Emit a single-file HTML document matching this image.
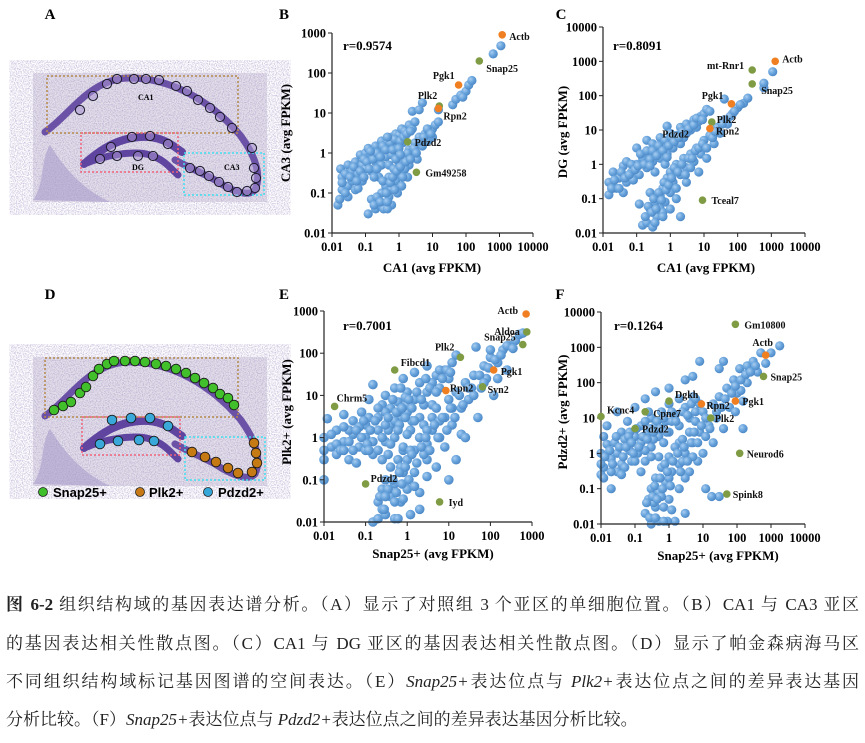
<!DOCTYPE html>
<html><head><meta charset="utf-8"><style>
html,body{margin:0;padding:0;background:#fff;}
#root{position:relative;width:865px;height:743px;overflow:hidden;background:#fff;}
svg text{font-family:"Liberation Serif","Noto Serif CJK SC",serif;}
svg text.sans{font-family:"Liberation Sans",sans-serif;}
.cap{position:absolute;left:6px;width:853px;font-family:"Liberation Serif","Noto Serif CJK SC",serif;font-size:17px;color:#222;text-align:justify;text-align-last:justify;white-space:nowrap;line-height:20px;}
.cap.last{text-align-last:left;}
</style></head><body>
<div id="root">
<svg id="fig" width="865" height="575" viewBox="0 0 865 575" xmlns="http://www.w3.org/2000/svg">
<defs>
<radialGradient id="gb" cx="0.35" cy="0.35" r="0.7"><stop offset="0" stop-color="#a9cdf0"/><stop offset="0.5" stop-color="#6aa5dd"/><stop offset="1" stop-color="#4a86c4"/></radialGradient>
<filter id="tex"><feTurbulence type="fractalNoise" baseFrequency="0.85" numOctaves="2" seed="3"/><feColorMatrix values="0 0 0 0 0.42  0 0 0 0 0.35  0 0 0 0 0.6  0 0 0 -2.2 1.35"/></filter>
<g id="tissue">
<rect x="33" y="73" width="234" height="129" fill="#e4e0ea"/>
<rect x="33" y="73" width="234" height="129" filter="url(#tex)" opacity="0.8"/>
<path d="M33,200 C45,185 40,160 50,145 C60,160 75,185 110,202 Z" fill="#a497c8" opacity="0.55"/>
<path d="M45,132 C70,115 90,78 130,78 C170,78 210,100 240,135 C255,155 262,175 255,190 C248,198 230,190 215,180 C200,172 190,168 175,160" fill="none" stroke="#5f44a0" stroke-width="7" stroke-linecap="round" opacity="0.9"/>
<path d="M84,164 C100,150 120,135 150,137 C165,139 172,145 182,152" fill="none" stroke="#5f44a0" stroke-width="8" stroke-linecap="round"/>
<path d="M84,164 C105,155 135,150 150,155 C165,160 170,168 178,175" fill="none" stroke="#5f44a0" stroke-width="7" stroke-linecap="round"/>
</g>
</defs>

<g>
<text x="50" y="19" font-size="15" font-weight="bold" text-anchor="middle">A</text>
<use href="#tissue"/>
<rect x="47" y="76" width="191" height="57" fill="none" stroke="#b5894a" stroke-width="1.5" stroke-dasharray="2,2"/>
<rect x="81" y="133" width="97" height="39" fill="none" stroke="#f0627a" stroke-width="1.5" stroke-dasharray="2,2"/>
<rect x="184" y="153" width="80" height="42" fill="none" stroke="#3fe0ee" stroke-width="1.5" stroke-dasharray="2,2"/>
<text x="138" y="100" font-size="8" font-weight="bold">CA1</text>
<text x="132" y="170" font-size="8" font-weight="bold">DG</text>
<text x="224" y="170" font-size="8" font-weight="bold">CA3</text>
<g id="aCircles"></g>
</g>

<g>
<text x="50" y="299" font-size="15" font-weight="bold" text-anchor="middle">D</text>
<use href="#tissue" transform="translate(0,284)"/>
<rect x="45" y="358" width="193" height="59" fill="none" stroke="#b5894a" stroke-width="1.5" stroke-dasharray="2,2"/>
<rect x="82" y="417" width="98" height="38" fill="none" stroke="#f0627a" stroke-width="1.5" stroke-dasharray="2,2"/>
<rect x="185" y="437" width="80" height="43" fill="none" stroke="#3fe0ee" stroke-width="1.5" stroke-dasharray="2,2"/>
<g id="dCircles"></g>
<g>
<circle cx="43" cy="492" r="4.5" fill="#3fbf2a" stroke="#222" stroke-width="0.8"/>
<text class="sans" x="53" y="497" font-size="13" font-weight="bold">Snap25+</text>
<circle cx="140" cy="492" r="4.5" fill="#c77a16" stroke="#222" stroke-width="0.8"/>
<text class="sans" x="149" y="497" font-size="13" font-weight="bold">Plk2+</text>
<circle cx="208" cy="492" r="4.5" fill="#35a7d8" stroke="#222" stroke-width="0.8"/>
<text class="sans" x="218" y="497" font-size="13" font-weight="bold">Pdzd2+</text>
</g>
</g>

<g id="plots"></g>
</svg>

<div class="cap" style="top:595px"><b>图 6-2</b> 组织结构域的基因表达谱分析。（A）显示了对照组 3 个亚区的单细胞位置。（B）CA1 与 CA3 亚区</div>
<div class="cap" style="top:634px">的基因表达相关性散点图。（C）CA1 与 DG 亚区的基因表达相关性散点图。（D）显示了帕金森病海马区</div>
<div class="cap" style="top:672px">不同组织结构域标记基因图谱的空间表达。（E）<i>Snap25+</i>表达位点与 <i>Plk2+</i>表达位点之间的差异表达基因</div>
<div class="cap last" style="top:710px">分析比较。（F）<i>Snap25+</i>表达位点与 <i>Pdzd2+</i>表达位点之间的差异表达基因分析比较。</div>
</div>

<script>
// ---------- Panel B data (CA1 vs CA3) ----------
const panelB_points = [[0.015,0.05],[0.017,0.07],[0.02,0.12],[0.02,0.25],[0.018,0.4],[0.025,0.3],[0.03,0.15],[0.03,0.5],[0.04,0.2],[0.04,0.35],[0.05,0.12],[0.05,0.6],[0.06,0.3],[0.07,0.9],[0.08,0.2],[0.08,0.5],[0.1,0.4],[0.1,1],[0.12,0.7],[0.12,1.3],[0.15,0.35],[0.15,0.9],[0.2,0.6],[0.2,1.5],[0.25,1],[0.3,0.5],[0.3,2],[0.35,1.2],[0.4,0.8],[0.45,1.8],[0.5,1.2],[0.6,2.5],[0.7,1.5],[0.8,3],[0.9,2],[1,2.8],[1.2,4],[1.5,3.5],[2,5],[2.5,4],[3,6],[2.5,11],[5,18],[4,12],[0.06,0.13],[0.25,0.25],[0.5,0.5],[0.03,0.08],[0.09,0.7],[0.18,0.25],[0.6,0.9],[1.3,1.8],
[0.02,0.18],[0.025,0.1],[0.035,0.25],[0.045,0.45],[0.055,0.2],[0.07,0.35],[0.09,0.25],[0.11,0.6],[0.13,0.4],[0.17,0.7],[0.22,1],[0.28,0.8],[0.33,1.5],[0.4,1.2],[0.55,1.8],[0.65,1.2],[0.75,2.2],[1.1,2],[1.4,2.5],[1.7,3],[2.2,3.5],[0.14,1.1],[0.22,0.4],[0.45,2.5],[1,1.3],
[0.12,0.03],[0.15,0.07],[0.2,0.04],[0.25,0.05],[0.3,0.1],[0.35,0.04],[0.4,0.15],[0.5,0.08],[0.5,0.25],[0.6,0.12],[0.7,0.4],[0.8,0.2],[1,0.6],[1,0.3],[1.2,0.15],[1.5,0.8],[2,0.5],[2,1.2],[2.5,0.9],[3,1.8],[3.5,0.7],[4,2.5],[5,1.5],[6,3],[7,2],[8,3.5],[10,4],[10,2.5],[12,5],[15,6],[0.9,0.1],[1.8,0.25],[0.6,0.05],[0.45,0.04],[1.5,0.4],[3,1.1],[0.8,0.7],
[0.18,0.05],[0.22,0.08],[0.28,0.06],[0.33,0.2],[0.42,0.1],[0.55,0.18],[0.65,0.25],[0.75,0.12],[0.85,0.35],[1.1,0.45],[1.3,0.25],[1.6,0.6],[1.8,1],[2.2,0.7],[2.8,1.3],[3.3,1],[4.5,2],[5.5,2.5],[7,4],[9,3],[0.45,0.06],[1.1,0.9],
[15,12],[40,16],[50,22],[70,28],[100,35],[120,50],[150,65],[650,300],[1100,480],[80,25]];
const panelB_genes = ['Actb','Snap25','Pgk1','Plk2','Rpn2','Pdzd2','Gm49258'];
const panelB_geneVals = [[1200,900],[250,200],[60,50],[16,15],[15,13],[1.8,1.9],[3.3,0.33]];
const panelB_geneColors = ['o','g','o','g','o','g','g'];
const panelB_labelOffsets = [[7,5,'start'],[7,11,'start'],[-4,-6,'end'],[-2,-7,'end'],[5,11,'start'],[7,4,'start'],[9,4,'start']];
const panelB_xTicks = ['0.01','0.1','1','10','100','1000','10000'];
const panelB_yTicks = ['0.01','0.1','1','10','100','1000'];

// ---------- Panel C data (CA1 vs DG) ----------
const panelC_points = [[0.015,0.13],[0.015,0.3],[0.02,0.6],[0.025,0.2],[0.03,0.4],[0.04,0.9],[0.05,0.3],[0.05,1.2],[0.07,0.6],[0.08,0.35],[0.1,1],[0.1,3],[0.12,0.5],[0.15,1.5],[0.2,0.8],[0.2,5],[0.25,2],[0.3,1.2],[0.3,4],[0.4,2.5],[0.5,1.5],[0.5,6],[0.6,3.5],[0.8,13],[0.8,2],[1,5],[1,8],[1.2,3],[1.5,7],[2,4],[2,12],[3,8],[3,15],[4,10],[5,20],[6,12],[8,25],[10,30],[12,40],[7,18],[0.04,0.15],[0.35,0.6],[0.02,0.2],[0.7,1],[2.5,6],
[0.018,0.2],[0.022,0.35],[0.03,0.2],[0.035,0.6],[0.045,0.4],[0.06,0.5],[0.07,1],[0.09,0.7],[0.11,0.9],[0.13,2],[0.17,1],[0.2,2.5],[0.25,1.4],[0.3,2.5],[0.4,1.8],[0.45,3.5],[0.6,2.5],[0.7,5],[0.9,3.5],[1.1,6],[1.3,4.5],[1.8,6],[2.3,9],[3.5,11],[5,14],[6,22],[9,20],[15,35],[0.25,0.9],[0.8,1.6],
[0.15,0.017],[0.2,0.02],[0.25,0.05],[0.3,0.015],[0.35,0.08],[0.4,0.03],[0.5,0.12],[0.5,0.05],[0.6,0.2],[0.7,0.08],[0.8,0.4],[1,0.15],[1,0.6],[1.2,0.3],[1.5,1],[1.5,0.1],[2,0.5],[2,0.03],[2.5,1.5],[3,0.8],[3,0.3],[4,2],[5,1.2],[6,3],[7,0.6],[8,2],[10,5],[12,1.5],[15,7],[20,4],[25,12],[30,8],[40,20],[50,15],[70,30],[100,45],[150,60],[200,85],[0.12,0.07],[0.25,0.15],[0.6,0.04],[1,0.05],[4,0.8],
[0.18,0.03],[0.22,0.06],[0.28,0.04],[0.32,0.1],[0.38,0.05],[0.45,0.15],[0.55,0.09],[0.65,0.3],[0.75,0.18],[0.9,0.25],[1.1,0.4],[1.3,0.8],[1.7,0.6],[2.2,1],[2.8,0.5],[3.5,1.5],[4.5,1.5],[5.5,2.5],[7,3],[9,4],[12,3],[18,6],[22,9],[35,15],[60,25],[80,35],[120,55],[0.35,0.02],[0.6,0.03],[1.5,0.2],
[600,170],[600,230],[1100,500],[40,80]];
const panelC_genes = ['Actb','mt-Rnr1','Snap25','Pgk1','Plk2','Rpn2','Pdzd2','Tceal7'];
const panelC_geneVals = [[1300,1000],[270,560],[270,220],[65,58],[17,17],[15,11],[5,4],[9,0.09]];
const panelC_geneColors = ['o','g','g','o','g','o','b','g'];
const panelC_labelOffsets = [[7,1,'start'],[-8,-1,'end'],[9,10,'start'],[-8,-5,'end'],[5,1,'start'],[6,6,'start'],[-5,-6,'end'],[9,4,'start']];
const panelC_xTicks = ['0.01','0.1','1','10','100','1000','10000'];
const panelC_yTicks = ['0.01','0.1','1','10','100','1000','10000'];

// ---------- Panel E data (Snap25+ vs Plk2+) ----------
const panelE_points = [[0.01,0.3],[0.01,1],[0.012,2.8],[0.01,0.1],[0.015,0.6],[0.02,1.5],[0.02,0.4],[0.03,0.8],[0.03,3.5],[0.04,0.3],[0.05,1.2],[0.05,2.5],[0.07,0.6],[0.08,4],[0.1,1],[0.1,2],[0.12,8],[0.15,0.4],[0.15,18],[0.2,3],[0.2,1.5],[0.25,6],[0.3,0.8],[0.3,10],[0.4,2],[0.4,5],[0.5,15],[0.5,1],[0.6,7],[0.7,3],[0.8,25],[1,4],[1,12],[1.2,1.5],[1.5,8],[1.5,35],[2,20],[2,3],[3,12],[3,50],[4,6],[5,30],[6,15],[8,40],[10,25],[12,60],[15,90],[0.06,0.25],[0.25,0.3],[0.8,0.5],[2,1],[0.15,0.8],[0.3,4],[0.5,2.5],[1,6],[0.04,1.5],[0.9,9],[4,20],[0.2,0.5],[0.02,0.7],[0.07,1.8],[0.12,3],[0.35,1.5],[0.7,15],[1.3,2.5],[2.5,6],[6,40],[45,140],[0.6,4],[0.1,0.5],
[0.01,0.5],[0.015,1.2],[0.025,0.5],[0.03,1.8],[0.04,0.8],[0.05,0.5],[0.06,1.5],[0.08,1],[0.09,2.5],[0.11,0.7],[0.13,1.5],[0.17,2.5],[0.2,5],[0.25,1],[0.3,2],[0.35,3],[0.45,8],[0.55,4],[0.65,2],[0.75,5],[0.9,3],[1.1,8],[1.3,5],[1.7,12],[2.2,8],[2.8,25],[3.5,15],[5,12],[7,25],[9,40],[11,35],[0.12,0.5],[0.4,0.7],[0.6,1.5],[1.5,2.5],[0.03,0.5],
[0.15,0.01],[0.2,0.03],[0.2,0.012],[0.25,0.06],[0.3,0.015],[0.3,0.1],[0.4,0.04],[0.4,0.2],[0.5,0.012],[0.5,0.08],[0.6,0.3],[0.7,0.03],[0.8,0.15],[0.8,0.6],[1,0.06],[1,0.3],[1,1.2],[1.2,0.015],[1.5,0.5],[1.5,0.15],[2,1],[2,0.05],[2.5,2],[3,0.3],[3,0.7],[4,3],[4,1.5],[5,0.2],[5,5],[6,1],[8,3],[8,0.6],[10,8],[10,0.1],[12,2],[15,12],[15,0.3],[20,5],[20,1.2],[25,20],[30,8],[40,30],[50,3],[60,15],[70,50],[80,25],[100,80],[120,10],[150,60],[200,120],[250,40],[300,150],[400,200],[500,280],[600,300],[0.6,0.012],[2,0.02],[25,1],[100,120],[0.35,0.4],[0.25,0.02],[0.5,0.03],[0.7,0.2],[1.2,0.5],[2.5,0.4],[3,1.5],[6,2.5],[12,5],[35,15],[150,25],
[0.22,0.04],[0.28,0.02],[0.35,0.06],[0.45,0.1],[0.55,0.05],[0.65,0.15],[0.75,0.08],[0.9,0.2],[1.1,0.1],[1.3,0.4],[1.7,0.25],[2.2,0.6],[2.8,1],[3.5,0.5],[4.5,2],[5.5,1],[7,3],[9,1.5],[11,5],[14,3],[18,10],[22,6],[30,15],[40,10],[55,30],[70,20],[90,45],[130,70],[180,90],[250,150],[350,130],[0.3,0.04],[0.8,0.035],[1.5,0.07],[3,0.12]];
const panelE_genes = ['Actb','Aldoa','Snap25','Pgk1','Plk2','Fibcd1','Rpn2','Syn2','Chrm5','Pdzd2','Iyd'];
const panelE_geneVals = [[720,850],[750,320],[600,160],[120,40],[19,80],[0.5,40],[8.5,13],[65,16],[0.018,5.5],[0.1,0.08],[6,0.03]];
const panelE_geneColors = ['o','g','g','o','g','g','o','g','g','g','g'];
const panelE_labelOffsets = [[-8,0,'end'],[-7,3,'end'],[-7,-4,'end'],[7,5,'start'],[-6,-7,'end'],[6,-4,'start'],[4,1,'start'],[5,6,'start'],[2,-5,'start'],[5,-2,'start'],[9,4,'start']];
const panelE_xTicks = ['0.01','0.1','1','10','100','1000'];
const panelE_yTicks = ['0.01','0.1','1','10','100','1000'];

// ---------- Panel F data (Snap25+ vs Pdzd2+) ----------
const panelF_points = [[0.01,0.25],[0.01,1],[0.012,3],[0.012,0.4],[0.015,1.8],[0.015,6],[0.02,0.7],[0.02,0.1],[0.025,2],[0.03,1],[0.03,15],[0.04,0.5],[0.04,4],[0.05,2.5],[0.06,8],[0.07,1.2],[0.08,0.6],[0.1,3],[0.1,20],[0.12,1],[0.15,6],[0.15,2],[0.2,35],[0.2,0.6],[0.25,4],[0.3,10],[0.3,1.5],[0.4,6],[0.4,55],[0.5,3],[0.6,15],[0.7,2],[0.8,8],[1,25],[1,70],[1,4],[1.5,12],[2,35],[2,6],[3,20],[3,120],[4,10],[5,40],[6,15],[8,25],[8,400],[5,150],[0.03,0.3],[0.15,0.3],[0.5,0.8],[0.07,4],[0.25,15],[2,2],[0.1,0.6],[0.02,0.3],[0.05,0.4],[0.35,2.5],[0.6,5],[1.2,8],[0.2,1.2],
[0.01,0.5],[0.013,0.8],[0.018,1.2],[0.022,0.5],[0.028,3],[0.035,1.5],[0.045,0.8],[0.055,1.5],[0.065,3],[0.08,2],[0.09,1],[0.11,5],[0.13,1.5],[0.17,3],[0.2,8],[0.23,2.5],[0.28,5],[0.35,4],[0.45,8],[0.55,5],[0.7,10],[0.85,4],[1.2,15],[1.6,8],[2.5,15],[3.5,12],[4.5,25],[6,35],[0.04,0.25],[0.3,0.8],[0.012,0.2],
[0.2,0.02],[0.25,0.05],[0.3,0.01],[0.3,0.1],[0.4,0.03],[0.4,0.2],[0.5,0.012],[0.5,0.08],[0.6,0.4],[0.7,0.03],[0.8,0.15],[1,0.8],[1,0.05],[1.2,0.3],[1.5,0.012],[1.5,1.5],[2,0.5],[2,0.1],[2.5,2.5],[3,1],[3,0.02],[4,4],[4,0.3],[5,2],[6,8],[7,0.6],[8,4],[10,15],[10,1],[12,0.1],[15,6],[20,25],[20,2],[25,10],[30,40],[40,5],[50,70],[60,20],[80,120],[100,50],[120,250],[150,30],[200,300],[200,100],[300,400],[400,200],[500,700],[700,350],[1000,700],[1800,1100],[40,400],[30,250],[90,15],[150,5],[130,60],[0.9,0.012],[3,0.2],[30,0.06],[18,0.06],[0.6,0.06],[1,0.2],[2.5,0.6],[5,0.8],[12,3],[0.35,0.04],
[0.22,0.04],[0.27,0.015],[0.33,0.06],[0.38,0.12],[0.45,0.05],[0.55,0.2],[0.65,0.1],[0.75,0.5],[0.9,0.3],[1.1,0.12],[1.3,0.6],[1.8,1],[2.2,0.3],[2.8,1.5],[3.5,0.6],[4.5,2],[5.5,4],[7,2],[9,6],[12,10],[16,5],[25,15],[35,20],[45,35],[70,50],[90,80],[130,120],[180,170],[250,200],[350,300],[0.4,0.015],[0.7,0.012],[1.2,0.025]];
const panelF_genes = ['Gm10800','Actb','Snap25','Pgk1','Rpn2','Dgkh','Cpne7','Kcnc4','Pdzd2','Plk2','Neurod6','Spink8'];
const panelF_geneVals = [[90,4500],[700,600],[600,150],[90,30],[9,25],[1,30],[0.2,15],[0.01,11],[0.1,5],[17,10],[120,1],[50,0.07]];
const panelF_geneColors = ['g','o','g','o','o','g','g','g','g','g','g','g'];
const panelF_labelOffsets = [[9,4,'start'],[-3,-9,'middle'],[7,4,'start'],[7,4,'start'],[5,5,'start'],[6,-3,'start'],[8,5,'start'],[6,-3,'start'],[7,4,'start'],[4,4,'start'],[7,4,'start'],[6,4,'start']];
const panelF_xTicks = ['0.01','0.1','1','10','100','1000','10000'];
const panelF_yTicks = ['0.01','0.1','1','10','100','1000','10000'];

// ---------- Tissue marker circles ----------
const aCirclePos = [[80,110],[93,96],[107,84],[117,79],[134,79],[146,79],[159,80],[176,86],[187,91],[198,100],[210,108],[220,117],[232,128],
[111,147],[132,137],[150,136],[168,144],[100,159],[117,156],[138,156],[153,156],
[252,148],[254,168],[256,178],[255,188],[247,191],[237,192],[228,187],[219,182],[209,176],[200,171],[190,168]];
const dSnapPos = [[54,410],[63,406],[71,402],[80,393],[86,387],[93,376],[99,369],[107,364],[114,361],[125,361],[135,361],[145,362],[156,364],[166,366],[176,369],[186,373],[195,378],[204,383],[213,388],[220,394],[228,398],[234,405]];
const dPdzdPos = [[112,420],[131,418],[150,418],[168,426],[100,444],[118,441],[139,440],[154,441]];
const dPlkPos = [[192,452],[205,457],[216,462],[228,468],[238,473],[252,472],[257,463],[256,453],[254,443]];

const NS='http://www.w3.org/2000/svg';
function mk(tag, attrs, parent){const e=document.createElementNS(NS,tag);for(const k in attrs)e.setAttribute(k,attrs[k]);parent.appendChild(e);return e;}

const aG=document.getElementById('aCircles');
aCirclePos.forEach(p=>{
  const c=mk('circle',{cx:p[0],cy:p[1],r:4.6,fill:'rgba(170,150,210,0.55)',stroke:'#1a1a2a','stroke-width':1},aG);
  
  
});
const dG=document.getElementById('dCircles');
function dCircles(list,color){list.forEach(p=>{
  const c=mk('circle',{cx:p[0],cy:p[1],r:4.8,fill:color,stroke:'#1a1a1a','stroke-width':0.9},dG);
  
  
});}
dCircles(dSnapPos,'#42c02c');dCircles(dPdzdPos,'#3aa8d8');dCircles(dPlkPos,'#c67a14');

const plotsG=document.getElementById('plots');
function plot(cfg){
  const g=mk('g',{},plotsG);
  
  
  const xs=v=>cfg.L+(Math.log10(v)-cfg.x0)/(cfg.x1-cfg.x0)*(cfg.R-cfg.L);
  const ys=v=>cfg.B-(Math.log10(v)-cfg.y0)/(cfg.y1-cfg.y0)*(cfg.B-cfg.T);
  const lt=mk('text',{x:cfg.letter[1],y:cfg.letter[2],'font-size':15,'font-weight':'bold','text-anchor':'middle'},g);
  lt.textContent=cfg.letter[0];
  
  
  const pg=mk('g',{},g);
  
  
  cfg.points.forEach(p=>{
    const c=mk('circle',{cx:xs(p[0]).toFixed(1),cy:ys(p[1]).toFixed(1),r:cfg.r,fill:'url(#gb)'},pg);
    
    
  });
  const ax=mk('path',{d:`M${cfg.L},${cfg.T} V${cfg.B} H${cfg.R}`,fill:'none',stroke:'#222','stroke-width':1.2},g);
  
  
  cfg.xTicks.forEach(t=>{
    const x=xs(parseFloat(t));
    mk('line',{x1:x,x2:x,y1:cfg.B,y2:cfg.B+4,stroke:'#222','stroke-width':1},g);
    const tx=mk('text',{x:x,y:cfg.B+18,'font-size':12.5,'font-weight':'bold','text-anchor':'middle'},g);
    tx.textContent=t;
    
    
  });
  cfg.yTicks.forEach(t=>{
    const y=ys(parseFloat(t));
    mk('line',{x1:cfg.L-4,x2:cfg.L,y1:y,y2:y,stroke:'#222','stroke-width':1},g);
    const ty=mk('text',{x:cfg.L-6,y:y+4.5,'font-size':12.5,'font-weight':'bold','text-anchor':'end'},g);
    ty.textContent=t;
    
    
  });
  const xt=mk('text',{x:cfg.xTitle[1],y:cfg.xTitle[2],'font-size':13,'font-weight':'bold','text-anchor':'middle'},g);
  xt.textContent=cfg.xTitle[0];
  
  
  const yt=mk('text',{x:0,y:0,'font-size':13,'font-weight':'bold','text-anchor':'middle',transform:`translate(${cfg.yTitle[1]},${cfg.yTitle[2]}) rotate(-90)`},g);
  yt.textContent=cfg.yTitle[0];
  
  
  const rt=mk('text',{x:cfg.rText[1],y:cfg.rText[2],'font-size':13,'font-weight':'bold'},g);
  rt.textContent=cfg.rText[0];
  
  
  cfg.genes.forEach((name,i)=>{
    const v=cfg.vals[i], col=cfg.colors[i], off=cfg.offs[i];
    const x=xs(v[0]), y=ys(v[1]);
    if(col!=='b'){
      const c=mk('circle',{cx:x.toFixed(1),cy:y.toFixed(1),r:3.8,fill:col==='o'?'#f07f22':'#7f9c45'},g);
      
      
    }
    const lb=mk('text',{x:(x+off[0]).toFixed(1),y:(y+off[1]).toFixed(1),'font-size':10,'font-weight':'bold','text-anchor':off[2],fill:'#111'},g);
    lb.textContent=name;
    
    
  });
}

plot({name:'panel-b-scatter',letter:['B',284,19],L:332,R:533,T:33,B:233,x0:-2,x1:4,y0:-2,y1:3,r:4.6,
  points:panelB_points,genes:panelB_genes,vals:panelB_geneVals,colors:panelB_geneColors,offs:panelB_labelOffsets,
  xTicks:panelB_xTicks,yTicks:panelB_yTicks,xTitle:['CA1 (avg FPKM)',432,272],yTitle:['CA3 (avg FPKM)',290,133],rText:['r=0.9574',343,50]});
plot({name:'panel-c-scatter',letter:['C',561,19],L:603,R:805,T:27,B:233,x0:-2,x1:4,y0:-2,y1:4,r:4.6,
  points:panelC_points,genes:panelC_genes,vals:panelC_geneVals,colors:panelC_geneColors,offs:panelC_labelOffsets,
  xTicks:panelC_xTicks,yTicks:panelC_yTicks,xTitle:['CA1 (avg FPKM)',706,272],yTitle:['DG (avg FPKM)',567,132],rText:['r=0.8091',613,50]});
plot({name:'panel-e-scatter',letter:['E',284,299],L:324,R:532,T:311,B:522,x0:-2,x1:3,y0:-2,y1:3,r:4.8,
  points:panelE_points,genes:panelE_genes,vals:panelE_geneVals,colors:panelE_geneColors,offs:panelE_labelOffsets,
  xTicks:panelE_xTicks,yTicks:panelE_yTicks,xTitle:['Snap25+ (avg FPKM)',433,558],yTitle:['Plk2+ (avg FPKM)',291,412],rText:['r=0.7001',343,330]});
plot({name:'panel-f-scatter',letter:['F',560,299],L:601,R:805,T:312,B:524,x0:-2,x1:4,y0:-2,y1:4,r:4.6,
  points:panelF_points,genes:panelF_genes,vals:panelF_geneVals,colors:panelF_geneColors,offs:panelF_labelOffsets,
  xTicks:panelF_xTicks,yTicks:panelF_yTicks,xTitle:['Snap25+ (avg FPKM)',718,560],yTitle:['Pdzd2+ (avg FPKM)',567,412],rText:['r=0.1264',614,330]});
</script>
</body></html>
